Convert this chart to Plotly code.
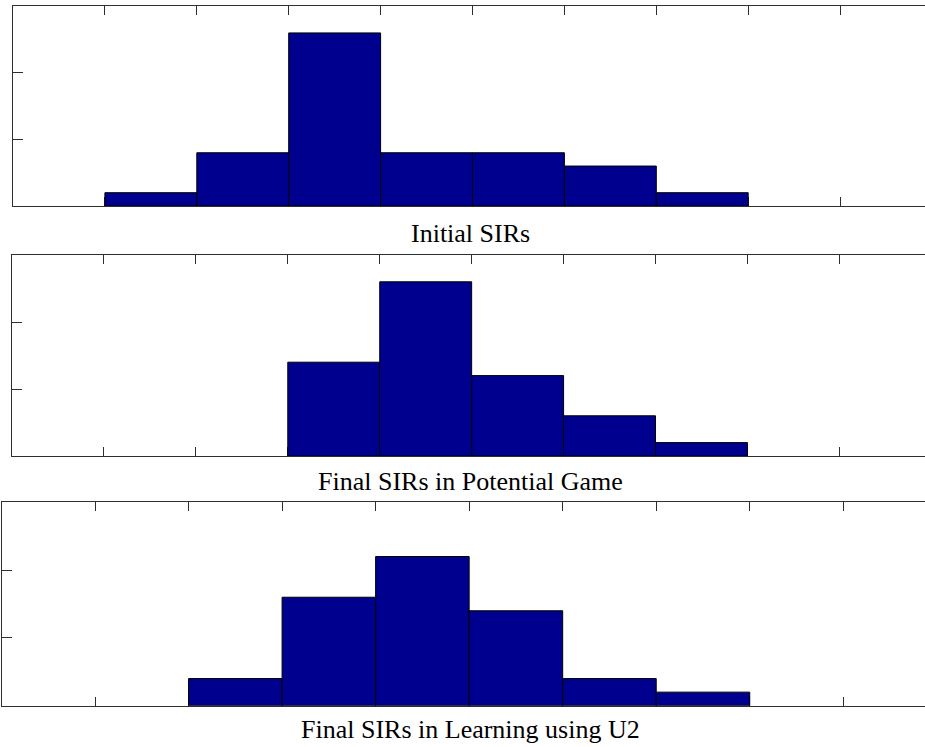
import plotly.graph_objects as go

# ---- data (histogram counts per bin) ----
bin_centers = [1.5, 2.5, 3.5, 4.5, 5.5, 6.5, 7.5]
initial_sirs = [1, 4, 13, 4, 4, 3, 1]
potential_game = [0, 0, 7, 13, 6, 3, 1]
learning_u2 = [0, 2, 8, 11, 7, 2, 1]
captions = ["Initial SIRs", "Final SIRs in Potential Game", "Final SIRs in Learning using U2"]
x_ticks = [1, 2, 3, 4, 5, 6, 7, 8, 9]
y_ticks = [5, 10]

W, H = 925, 747
BAR = "#00008F"
AX = "#2e2e2e"
FONT = "Liberation Serif"

# panel geometry (pixels): left, right(full axis, may exceed canvas), top, bottom
panels = [
    dict(data=initial_sirs, left=13, right=932, top=6.3, bottom=206, cap=233),
    dict(data=potential_game, left=12, right=931.3, top=255, bottom=456, cap=481.5),
    dict(data=learning_u2, left=1.5, right=936.8, top=502.3, bottom=705.7, cap=729.5),
]

fig = go.Figure()
layout = dict(width=W, height=H, margin=dict(l=0, r=0, t=0, b=0),
              paper_bgcolor="white", plot_bgcolor="white", showlegend=False,
              annotations=[])

for i, p in enumerate(panels):
    n = i + 1
    xs = [c for c, v in zip(bin_centers, p["data"]) if v > 0]
    ys = [v for v in p["data"] if v > 0]
    xa = "x" if n == 1 else f"x{n}"
    ya = "y" if n == 1 else f"y{2*n-1}"
    fig.add_trace(go.Bar(x=xs, y=ys, width=1, xaxis=xa, yaxis=ya,
                         marker=dict(color=BAR, line=dict(color="black", width=1)),
                         hoverinfo="x+y"))
    xrange_max = 10 * (W - p["left"]) / (p["right"] - p["left"])
    ydom = [1 - p["bottom"] / H, 1 - p["top"] / H]
    xkey = "xaxis" if n == 1 else f"xaxis{n}"
    ykey = "yaxis" if n == 1 else f"yaxis{2*n-1}"
    y2key = f"yaxis{2*n}"
    layout[xkey] = dict(domain=[p["left"] / W, 1], range=[0, xrange_max],
                        anchor=ya, tickvals=x_ticks, showticklabels=False,
                        ticks="inside", ticklen=9, tickwidth=1, tickcolor=AX,
                        showline=True, linecolor=AX, linewidth=1, mirror="ticks",
                        showgrid=False, zeroline=False, layer="below traces",
                        fixedrange=True)
    layout[ykey] = dict(domain=ydom, range=[0, 15], anchor=xa,
                        tickvals=y_ticks, showticklabels=False,
                        ticks="inside", ticklen=10, tickwidth=1, tickcolor=AX,
                        showline=True, linecolor=AX, linewidth=1, mirror=False,
                        showgrid=False, zeroline=False, layer="below traces",
                        fixedrange=True)
    layout[y2key] = dict(domain=ydom, range=[0, 15], anchor=xa, overlaying=ya,
                         side="right", tickvals=y_ticks, showticklabels=False,
                         ticks="inside", ticklen=3, tickwidth=1, tickcolor=AX,
                         showline=False, showgrid=False, zeroline=False,
                         fixedrange=True)
    layout["annotations"].append(dict(
        text=captions[i], xref="paper", yref="paper",
        x=470 / W, y=1 - p["cap"] / H, xanchor="center", yanchor="middle",
        showarrow=False, font=dict(family=FONT, size=26, color="black")))

fig.update_layout(**layout)
fig.write_html(
    "out.html",
    config={"displayModeBar": False},
    post_script="document.body.style.margin='0';document.body.style.overflow='hidden';",
)
